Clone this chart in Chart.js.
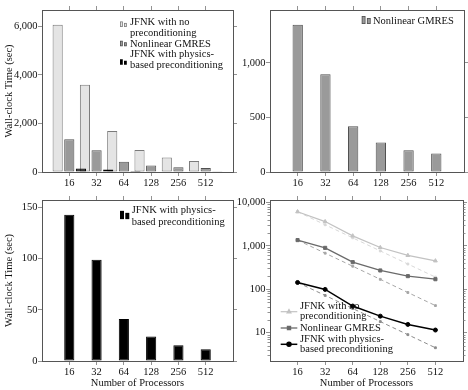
<!DOCTYPE html>
<html><head><meta charset="utf-8">
<script src="https://cdn.jsdelivr.net/npm/chart.js@4.4.1/dist/chart.umd.min.js"></script>
<style>
html,body{margin:0;padding:0;background:#fff;width:468px;height:390px;overflow:hidden;position:relative}
canvas{position:absolute}
</style></head><body>
<canvas id="c1" width="250" height="200" style="left:0;top:0"></canvas>
<canvas id="c2" width="234" height="200" style="left:234px;top:0"></canvas>
<canvas id="c3" width="250" height="200" style="left:0;top:190px"></canvas>
<canvas id="c4" width="234" height="200" style="left:234px;top:190px"></canvas>
<script>
// ---------------- data ----------------
const processors = [16, 32, 64, 128, 256, 512];
const jfnkNoPrecond = [6070, 3600, 1690, 910, 600, 450];
const nonlinearGmres = [1350, 895, 420, 270, 200, 170];
const jfnkPhysics = [143, 99, 41, 24, 15.5, 11.5];
const idealNoPrecond = [6070, 3040, 1520, 760, 380, 190];
const idealGmres = [1350, 675, 338, 169, 84, 42];
const idealPhysics = [143, 72, 36, 18, 9, 4.5];
const yTicksAll = [0, 2000, 4000, 6000];
const yTicksGmres = [0, 500, 1000];
const yTicksPhysics = [0, 50, 100, 150];
const yTicksLog = [10, 100, 1000, 10000];
const seriesNames = [['JFNK with no', 'preconditioning'], ['Nonlinear GMRES'], ['JFNK with physics-', 'based preconditioning']];
const yTitle = 'Wall-clock Time (sec)';
const xTitle = 'Number of Processors';

// ---------------- style ----------------
const FAMILY = '"Liberation Serif", "Times New Roman", serif';
const FS = 10.5;
const TXT = '#111';
const AXIS = '#555';
const TICK = '#777';
Chart.defaults.font.family = FAMILY;
Chart.defaults.font.size = FS;
Chart.defaults.color = TXT;

const LIGHT_FILL = '#e4e4e4', LIGHT_EDGE = '#7a7a7a';
const MID_FILL = '#9a9a9a', MID_EDGE = '#505050';
const DARK_FILL = '#000000', DARK_EDGE = '#000000';

function procAxis(pos, size, labels, title) {
  return {
    type: 'logarithmic', position: pos, min: 8, max: 1024, offset: false,
    afterBuildTicks: s => { s.ticks = processors.map(v => ({ value: v })); },
    afterFit: s => { s.height = size; },
    grid: { display: true, drawOnChartArea: false, drawTicks: true, tickLength: 4, color: TICK, lineWidth: 0.8, offset: false },
    border: { display: true, color: AXIS, width: 1 },
    ticks: { display: labels, color: TXT, font: { size: FS }, padding: 0.5, maxRotation: 0, autoSkip: false, callback: v => String(v) },
    title: title ? { display: true, text: title, color: TXT, font: { size: FS }, padding: { top: 0, bottom: 0 } } : { display: false }
  };
}
function valAxis(pos, size, labels, tickArr, type, min, max, title) {
  return {
    type: type, position: pos, min: min, max: max,
    afterBuildTicks: s => { s.ticks = tickArr.map(v => ({ value: v })); },
    afterFit: s => { s.width = size; },
    grid: { display: true, drawOnChartArea: false, drawTicks: true, tickLength: 4, color: TICK, lineWidth: 0.8 },
    border: { display: true, color: AXIS, width: 1 },
    ticks: { display: labels, color: TXT, font: { size: FS }, padding: 0.5, autoSkip: false, callback: v => Number(v).toLocaleString('en-US') },
    title: title ? { display: true, text: title, color: TXT, font: { size: FS }, padding: { top: 2.5, bottom: 0 } } : { display: false }
  };
}

function bar(ctx, x, yb, w, h, ds) {
  ctx.fillStyle = ds.borderColor;
  ctx.fillRect(x, yb - h, w, h);
  ctx.fillStyle = ds.backgroundColor;
  ctx.fillRect(x + 0.8, yb - h + 0.8, w - 1.6, h - 1.6);
}

const texLegend = {
  id: 'texLegend',
  afterDraw(chart, args, o) {
    if (!o || !o.items) return;
    const { ctx, chartArea: a } = chart;
    ctx.save();
    ctx.font = FS + 'px ' + FAMILY;
    ctx.textBaseline = 'middle'; ctx.textAlign = 'left';
    let y = a.top + o.y;
    for (const it of o.items) {
      const ds = chart.data.datasets[it.dataset];
      const sy = y + it.symDy;
      if (o.sym.kind === 'bar') {
        const bx = a.left + o.symX, bb = sy + o.sym.h1 / 2;
        bar(ctx, bx, bb, o.sym.w, o.sym.h1, ds);
        bar(ctx, bx + o.sym.w + o.sym.gap, bb, o.sym.w, o.sym.h2, ds);
      } else {
        ctx.strokeStyle = ds.borderColor; ctx.lineWidth = ds.borderWidth; ctx.setLineDash([]);
        ctx.beginPath(); ctx.moveTo(a.left + o.sym.x1, sy); ctx.lineTo(a.left + o.sym.x2, sy); ctx.stroke();
        ctx.fillStyle = ds.pointBackgroundColor; ctx.strokeStyle = ds.pointBorderColor;
        Chart.helpers.drawPoint(ctx, { pointStyle: ds.pointStyle, radius: ds.pointRadius, rotation: 0, borderWidth: 1 }, a.left + (o.sym.x1 + o.sym.x2) / 2, sy);
      }
      ctx.fillStyle = TXT;
      it.lines.forEach((t, i) => ctx.fillText(t, a.left + o.x, y + i * o.lineH));
      y += (it.lines.length - 1) * o.lineH + o.step;
    }
    ctx.restore();
  }
};

const drawInOrder = {
  id: 'drawInOrder',
  beforeDatasetsDraw(chart) {
    chart.getSortedVisibleDatasetMetas().forEach(m => chart._drawDataset(m));
    return false;
  }
};

const minorTicks = {
  id: 'minorTicks',
  afterDraw(chart) {
    const s = chart.scales.y, a = chart.chartArea, ctx = chart.ctx;
    ctx.save(); ctx.strokeStyle = TICK; ctx.lineWidth = 0.8;
    for (let e = Math.floor(Math.log10(s.min)); e <= Math.ceil(Math.log10(s.max)); e++) {
      for (let d = 2; d <= 9; d++) {
        const v = d * Math.pow(10, e);
        if (v < s.min || v > s.max) continue;
        const y = Math.round(s.getPixelForValue(v)) + 0.5;
        ctx.beginPath();
        ctx.moveTo(a.left - 2.5, y); ctx.lineTo(a.left, y);
        ctx.moveTo(a.right, y); ctx.lineTo(a.right + 2.5, y);
        ctx.stroke();
      }
    }
    ctx.restore();
  }
};

function opts(cfg) {
  return {
    responsive: false, animation: false, events: [],
    layout: { padding: 0 },
    plugins: { legend: { display: false }, tooltip: { enabled: false }, texLegend: cfg.legend },
    scales: {
      x: procAxis('bottom', cfg.bottom, true, cfg.xTitle),
      x2: procAxis('top', cfg.top, false, null),
      y: valAxis('left', cfg.left, true, cfg.yTicks, cfg.yType, cfg.yMin, cfg.yMax, cfg.yTitle),
      y2: valAxis('right', cfg.right, false, cfg.yTicks, cfg.yType, cfg.yMin, cfg.yMax, null)
    }
  };
}

function barDs(label, data, fill, edge, cp, bp) {
  return { label, data, backgroundColor: fill, borderColor: edge, borderWidth: 1, borderSkipped: false, categoryPercentage: cp, barPercentage: bp };
}

// ---------------- panel 1 ----------------
new Chart(document.getElementById('c1'), {
  type: 'bar',
  data: {
    labels: processors,
    datasets: [
      barDs(seriesNames[0].join(' '), jfnkNoPrecond, LIGHT_FILL, LIGHT_EDGE, 1.278, 0.873),
      barDs(seriesNames[1].join(' '), nonlinearGmres, MID_FILL, MID_EDGE, 1.278, 0.873),
      barDs(seriesNames[2].join(' '), jfnkPhysics, DARK_FILL, DARK_EDGE, 1.278, 0.873)
    ]
  },
  options: opts({
    left: 42, right: 17, top: 10, bottom: 28, yTitle: yTitle, xTitle: null,
    yTicks: yTicksAll, yType: 'linear', yMin: 0, yMax: 1.1 * Math.max(...jfnkNoPrecond),
    legend: {
      x: 88, y: 12.5, lineH: 10.5, step: 10.8, symX: 78,
      sym: { kind: 'bar', w: 2.8, gap: 1.2, h1: 5.5, h2: 4 },
      items: [
        { dataset: 0, lines: seriesNames[0], symDy: 1.7 },
        { dataset: 1, lines: seriesNames[1], symDy: -0.3 },
        { dataset: 2, lines: seriesNames[2], symDy: 7.4 }
      ]
    }
  }),
  plugins: [texLegend, drawInOrder]
});

// ---------------- panel 2 ----------------
new Chart(document.getElementById('c2'), {
  type: 'bar',
  data: { labels: processors, datasets: [barDs(seriesNames[1].join(' '), nonlinearGmres, MID_FILL, MID_EDGE, 1, 0.372)] },
  options: opts({
    left: 36, right: 4, top: 10, bottom: 28, yTitle: null, xTitle: null,
    yTicks: yTicksGmres, yType: 'linear', yMin: 0, yMax: 1.1 * Math.max(...nonlinearGmres),
    legend: {
      x: 103, y: 11.7, lineH: 10.5, step: 10.8, symX: 91.7,
      sym: { kind: 'bar', w: 3.8, gap: 1.4, h1: 8, h2: 6 },
      items: [{ dataset: 0, lines: seriesNames[1], symDy: -1.7 }]
    }
  }),
  plugins: [texLegend]
});

// ---------------- panel 3 ----------------
new Chart(document.getElementById('c3'), {
  type: 'bar',
  data: { labels: processors, datasets: [barDs(seriesNames[2].join(' '), jfnkPhysics, DARK_FILL, DARK_EDGE, 1, 0.372)] },
  options: opts({
    left: 42, right: 17, top: 10, bottom: 29, yTitle: yTitle, xTitle: xTitle,
    yTicks: yTicksPhysics, yType: 'linear', yMin: 0, yMax: 1.1 * Math.max(...jfnkPhysics),
    legend: {
      x: 89.7, y: 10.7, lineH: 11.5, step: 11, symX: 78,
      sym: { kind: 'bar', w: 4, gap: 1.3, h1: 8.3, h2: 6.3 },
      items: [{ dataset: 0, lines: seriesNames[2], symDy: 4.3 }]
    }
  }),
  plugins: [texLegend]
});

// ---------------- panel 4 ----------------
function lineDs(label, data, color, width, dash, style, r) {
  return {
    label, data, borderColor: color, backgroundColor: color, borderWidth: width, borderDash: dash,
    pointStyle: style, pointRadius: r, pointBackgroundColor: color, pointBorderColor: color, pointBorderWidth: 1,
    tension: 0, fill: false
  };
}
new Chart(document.getElementById('c4'), {
  type: 'line',
  data: {
    labels: processors,
    datasets: [
      lineDs(seriesNames[0].join(' '), jfnkNoPrecond, '#c2c2c2', 1.2, [], 'triangle', 2.2),
      lineDs(seriesNames[1].join(' '), nonlinearGmres, '#6a6a6a', 1.3, [], 'rect', 2.2),
      lineDs(seriesNames[2].join(' '), jfnkPhysics, '#000000', 1.5, [], 'circle', 2),
      lineDs('ideal no preconditioning', idealNoPrecond, '#d8d8d8', 1, [4, 3], 'rect', 1.3),
      lineDs('ideal GMRES', idealGmres, '#a6a6a6', 1, [4, 3], 'rect', 1.3),
      lineDs('ideal physics', idealPhysics, '#8c8c8c', 1, [4, 3], 'rect', 1.3)
    ]
  },
  options: Object.assign(opts({
    left: 36, right: 4, top: 10, bottom: 29, yTitle: null, xTitle: xTitle,
    yTicks: yTicksLog, yType: 'logarithmic', yMin: 2.23, yMax: 11300,
    legend: {
      x: 30, y: 106.7, lineH: 10, step: 11.3,
      sym: { kind: 'line', x1: 10.7, x2: 27.3 },
      items: [
        { dataset: 0, lines: seriesNames[0], symDy: 5 },
        { dataset: 1, lines: seriesNames[1], symDy: 0 },
        { dataset: 2, lines: seriesNames[2], symDy: 5 }
      ]
    }
  })),
  plugins: [texLegend, minorTicks]
});
</script>
</body></html>
